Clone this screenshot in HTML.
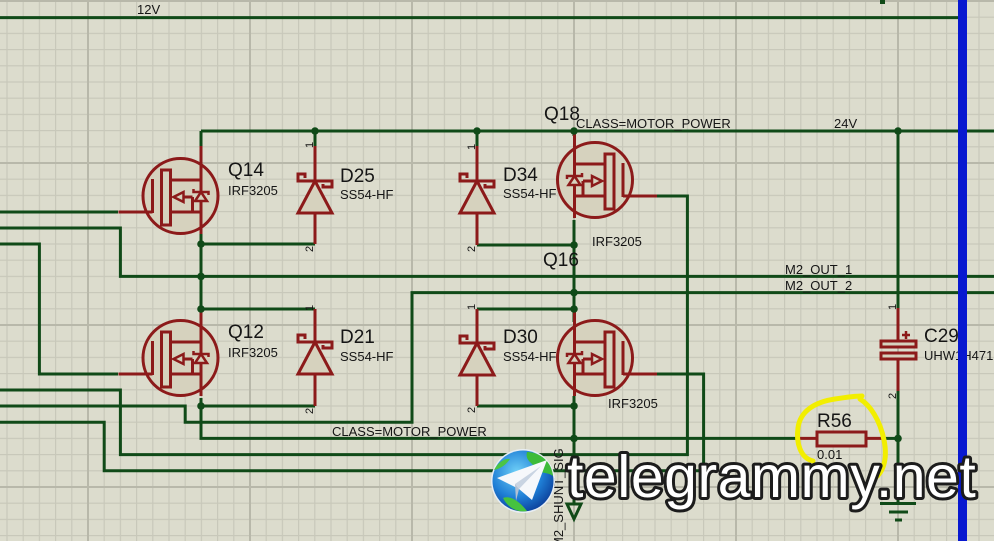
<!DOCTYPE html>
<html><head><meta charset="utf-8"><style>
html,body{margin:0;padding:0;background:#dcdccd;}
svg{display:block;}
text{font-family:"Liberation Sans",Arial,sans-serif;fill:#151515;}
</style></head><body>
<svg width="994" height="541" viewBox="0 0 994 541" xmlns="http://www.w3.org/2000/svg">
<defs>
<pattern id="gm" patternUnits="userSpaceOnUse" x="6.4" y="0.4" width="16.2" height="16.2"><rect width="1.2" height="16.2" fill="#c8c8ba"/><rect width="16.2" height="1.2" fill="#c8c8ba"/></pattern>
<pattern id="gM" patternUnits="userSpaceOnUse" x="87" y="0" width="162" height="162"><rect width="2" height="162" fill="#b8b8aa"/><rect width="162" height="2" fill="#b8b8aa"/></pattern>
<g id="mos" stroke="#8c1a1a" stroke-width="3" fill="none">
<circle r="37.5" fill="#d6d2be"/>
<line x1="20.5" y1="-50" x2="20.5" y2="38"/>
<line x1="-62" y1="16" x2="-28" y2="16"/>
<line x1="-28" y1="-17" x2="-28" y2="17"/>
<rect x="-19" y="-26" width="9" height="55" fill="#d6d2be"/>
<line x1="-10" y1="-16" x2="20.5" y2="-16"/>
<line x1="-10" y1="16" x2="20.5" y2="16"/>
<line x1="3" y1="1" x2="12" y2="1"/>
<line x1="12" y1="1" x2="12" y2="16"/>
<polygon points="-7,1 3,-4 3,6" fill="#d6d2be" stroke-width="2.5"/>
<polygon points="14.5,5 26.5,5 20.5,-4" fill="#d6d2be" stroke-width="2.5"/>
<path d="M13,-7 V-4 H28 V-1" stroke-width="2.5"/>
</g>
<g id="dio" stroke="#8c1a1a" stroke-width="3" fill="none">
<polygon points="-17,32 17,32 0,0" fill="#d6d2be"/>
<path d="M-10,-3 V-7 H-17 V0 H17 V6 H8 V3"/>
</g>
<radialGradient id="gl" cx="0.4" cy="0.35" r="0.7"><stop offset="0" stop-color="#6fd0f7"/><stop offset="0.6" stop-color="#1f7fd6"/><stop offset="1" stop-color="#0b3f9a"/></radialGradient>
</defs>

<rect width="994" height="541" fill="#dcdccd"/>
<rect width="994" height="541" fill="url(#gm)"/>
<rect width="994" height="541" fill="url(#gM)"/>

<!-- wires -->
<g stroke="#104a18" stroke-width="3" fill="none" stroke-linejoin="miter">
<path d="M0,17.6 H963"/>
<path d="M201,131 H994"/>
<path d="M201,131 V146"/>
<path d="M0,212 H118"/>
<path d="M0,228 H120.4 V276.4 H994"/>
<path d="M0,244 H39.4 V374 H118"/>
<path d="M201,232 V309"/>
<path d="M201,244 H315"/>
<path d="M315,131 V146"/>
<path d="M201,309 H315"/>
<path d="M201,398 V438.4 H799"/>
<path d="M201,406 H315"/>
<path d="M0,390 H120.4 V454.6 H687.4 V196 H657"/>
<path d="M0,406 H185.2 V422.2 H412 V292.6 H994"/>
<path d="M0,422.2 H104.2 V470.8 H703.6 V374 H657"/>
<path d="M477,131 V146"/>
<path d="M477,245 H574"/>
<path d="M574,131 V136"/>
<path d="M574,220 V322"/>
<path d="M477,309 H574"/>
<path d="M477,406 H574"/>
<path d="M574,396 V503"/>
<path d="M898,131 V308"/>
<path d="M898,391 V504"/>
<path d="M882,438.4 H898"/>
<path d="M880,503.5 H916 M889,512 H908 M895,520 H902"/>
<polygon points="567,504 581,504 574,519"/>
</g>
<rect x="880" y="0" width="5" height="4" fill="#104a18"/>

<!-- MOSFETs -->
<use href="#mos" transform="translate(180.5,196)"/>
<use href="#mos" transform="translate(180.5,358)"/>
<use href="#mos" transform="translate(595,180) scale(-1,1)"/>
<use href="#mos" transform="translate(595,358) scale(-1,1)"/>

<!-- diodes -->
<g stroke="#8c1a1a" stroke-width="3">
<line x1="315" y1="146" x2="315" y2="244"/>
<line x1="315" y1="309" x2="315" y2="406"/>
<line x1="477" y1="146" x2="477" y2="245"/>
<line x1="477" y1="309" x2="477" y2="406"/>
<line x1="898" y1="308" x2="898" y2="342"/>
<line x1="898" y1="358" x2="898" y2="391"/>
<line x1="799" y1="438.4" x2="882" y2="438.4"/>
</g>
<use href="#dio" transform="translate(315,181)"/>
<use href="#dio" transform="translate(315,342)"/>
<use href="#dio" transform="translate(477,181)"/>
<use href="#dio" transform="translate(477,343)"/>

<!-- capacitor & resistor -->
<g stroke="#8c1a1a" stroke-width="3" fill="#d6d2be">
<rect x="881" y="341" width="35" height="6"/>
<rect x="881" y="353" width="35" height="6"/>
<rect x="817" y="432" width="49" height="14"/>
</g>
<path d="M902,335 H910 M906,331 V339" stroke="#8c1a1a" stroke-width="2.5"/>

<!-- junctions -->
<g fill="#104a18">
<circle cx="315" cy="131" r="3.8"/><circle cx="477" cy="131" r="3.8"/><circle cx="574" cy="131" r="3.8"/><circle cx="898" cy="131" r="3.8"/>
<circle cx="201" cy="244" r="3.8"/><circle cx="201" cy="276.4" r="3.8"/><circle cx="201" cy="309" r="3.8"/><circle cx="201" cy="406" r="3.8"/>
<circle cx="574" cy="245" r="3.8"/><circle cx="574" cy="292.6" r="3.8"/><circle cx="574" cy="309" r="3.8"/><circle cx="574" cy="406" r="3.8"/><circle cx="574" cy="438.4" r="3.8"/>
<circle cx="898" cy="438.4" r="3.8"/>
</g>

<!-- labels -->
<g font-size="13">
<text x="137" y="14">12V</text>
<text x="228" y="195">IRF3205</text>
<text x="228" y="357">IRF3205</text>
<text x="340" y="199">SS54-HF</text>
<text x="340" y="361">SS54-HF</text>
<text x="503" y="198">SS54-HF</text>
<text x="503" y="361">SS54-HF</text>
<text x="592" y="246">IRF3205</text>
<text x="608" y="408">IRF3205</text>
<text x="576" y="128">CLASS=MOTOR_POWER</text>
<text x="834" y="128">24V</text>
<text x="785" y="274">M2_OUT_1</text>
<text x="785" y="290">M2_OUT_2</text>
<text x="332" y="436">CLASS=MOTOR_POWER</text>
<text x="924" y="360">UHW1H471</text>
<text x="817" y="459">0.01</text>
<text transform="translate(563,548) rotate(-90)">M2_SHUNT_SIG</text>
</g>
<g font-size="19">
<text x="228" y="176">Q14</text>
<text x="228" y="338">Q12</text>
<text x="340" y="182">D25</text>
<text x="340" y="343">D21</text>
<text x="503" y="181">D34</text>
<text x="503" y="343">D30</text>
<text x="544" y="120">Q18</text>
<text x="543" y="266">Q16</text>
<text x="924" y="342">C29</text>
<text x="817" y="427">R56</text>
</g>
<g font-size="11">
<text transform="translate(313,148) rotate(-90)">1</text>
<text transform="translate(313,252) rotate(-90)">2</text>
<text transform="translate(313,311) rotate(-90)">1</text>
<text transform="translate(313,414) rotate(-90)">2</text>
<text transform="translate(475,150) rotate(-90)">1</text>
<text transform="translate(475,252) rotate(-90)">2</text>
<text transform="translate(475,310) rotate(-90)">1</text>
<text transform="translate(475,413) rotate(-90)">2</text>
<text transform="translate(896,310) rotate(-90)">1</text>
<text transform="translate(896,399) rotate(-90)">2</text>
</g>

<!-- blue bar -->
<rect x="958" y="0" width="9" height="541" fill="#0818d0"/>

<!-- yellow highlight -->
<g stroke="#f2ee00" stroke-width="5" fill="none" stroke-linecap="round">
<path d="M813,461 C800,458 796,442 798,428 C800,411 815,402 835,399 C848,397 856,396 862,396"/>
<path d="M860,399 C870,405 880,420 884,440 C888,460 883,474 872,480"/>
</g>

<!-- watermark -->
<circle cx="523" cy="481" r="32" fill="#e8eef4"/>
<circle cx="523" cy="481" r="30.5" fill="url(#gl)"/>
<path d="M527,452 C540,452 552,462 553,476 C546,471 541,475 536,468 C531,462 525,460 527,452Z" fill="#3dbb3a"/>
<path d="M503,498 C511,495 520,502 527,511 C518,513 508,508 503,498Z" fill="#46c23f"/>
<path d="M494,470 C498,462 505,458 510,459 C506,465 500,469 494,470Z" fill="#4cc445"/>
<path d="M497,478 L547,460 L532,500 L519,489 Z" fill="#f6f8fb"/>
<path d="M519,489 L541,466 L515,484 Z" fill="#c9d4e2"/>
<path d="M515,484 L519,489 L516,501 Z" fill="#b3c1d3"/>
<text x="567" y="497" font-size="59" letter-spacing="0.5" style="fill:#ffffff" stroke="#1c1c1c" stroke-width="6" paint-order="stroke" stroke-linejoin="round">telegrammy.net</text>
</svg>
</body></html>
